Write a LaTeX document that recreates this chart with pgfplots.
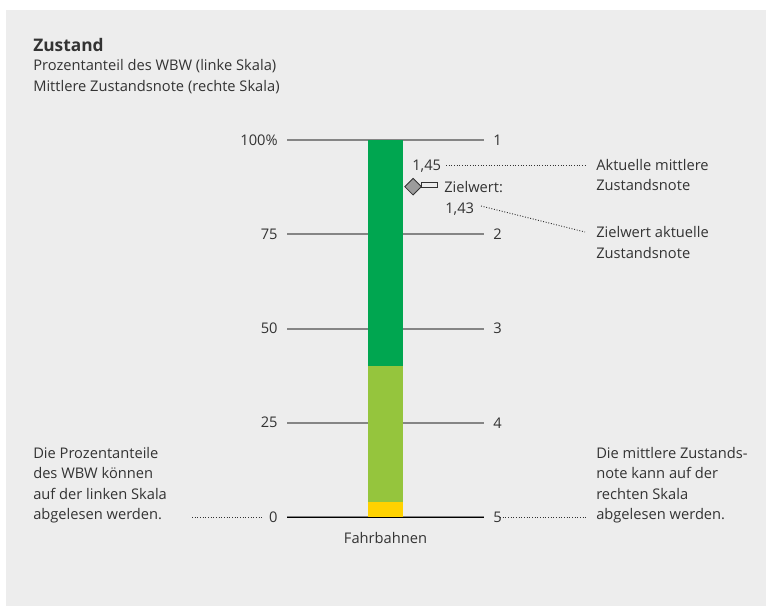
\documentclass[border=0pt]{standalone}
\usepackage{pgfplots}
\pgfplotsset{compat=1.18}
\usepackage{fontspec}
\setmainfont{Open Sans}
\definecolor{panel}{HTML}{EDEDED}
\definecolor{dkgreen}{HTML}{00A650}
\definecolor{ltgreen}{HTML}{95C53D}
\definecolor{yel}{HTML}{FFD200}
\definecolor{txt}{HTML}{333333}
\definecolor{gridc}{HTML}{858585}
\definecolor{diam}{HTML}{9C9C9C}
\newcommand{\fs}{\fontsize{11}{15}\selectfont}
\begin{document}
\begin{tikzpicture}[font=\fs]
\begin{scope}[x=0.75pt,y=-0.75pt]
\fill[white] (0,0) rectangle (766,606);
\fill[panel] (6,10) rectangle (766,606);
\node[anchor=base west, inner sep=0, text=txt, font=\fontsize{13}{15}\selectfont\bfseries] at (33,52) {Zustand};
\node[anchor=base west, inner sep=0, text=txt] at (33,71) {Prozentanteil des WBW (linke Skala)};
\node[anchor=base west, inner sep=0, text=txt] at (33,92) {Mittlere Zustandsnote (rechte Skala)};
% left block
\node[anchor=base west, inner sep=0, text=txt] at (33,458) {Die Prozentanteile};
\node[anchor=base west, inner sep=0, text=txt] at (33,478) {des WBW können};
\node[anchor=base west, inner sep=0, text=txt] at (33,499) {auf der linken Skala};
\node[anchor=base west, inner sep=0, text=txt] at (33,519) {abgelesen werden.};
% right block
\node[anchor=base west, inner sep=0, text=txt] at (596,458) {Die mittlere Zustands-};
\node[anchor=base west, inner sep=0, text=txt] at (596,478) {note kann auf der};
\node[anchor=base west, inner sep=0, text=txt] at (596,499) {rechten Skala};
\node[anchor=base west, inner sep=0, text=txt] at (596,519) {abgelesen werden.};
% annotations
\node[anchor=base west, inner sep=0, text=txt] at (412,170) {1,45};
\node[anchor=base west, inner sep=0, text=txt] at (596,170) {Aktuelle mittlere};
\node[anchor=base west, inner sep=0, text=txt] at (596,190) {Zustandsnote};
\node[anchor=base west, inner sep=0, text=txt] at (444,192) {Zielwert:};
\node[anchor=base west, inner sep=0, text=txt] at (445,213) {1,43};
\node[anchor=base west, inner sep=0, text=txt] at (596,237) {Zielwert aktuelle};
\node[anchor=base west, inner sep=0, text=txt] at (596,258) {Zustandsnote};
\begin{scope}[txt, line width=0.7pt, dash pattern=on 0.7pt off 1.3pt]
\draw (446,165) -- (585,165);
\draw (481,206) -- (585,232);
\draw (192,517) -- (262,517);
\draw (500,517) -- (587,517);
\end{scope}
\end{scope}

\begin{axis}[
  at={(215.25pt,-387.75pt)}, anchor=south west,
  scale only axis, width=147.75pt, height=282.75pt,
  xmin=-1, xmax=1, ymin=0, ymax=100,
  axis line style={draw=none},
  major tick length=0pt,
  ymajorgrids, grid style={gridc, line width=1.5pt},
  ytick={0,25,50,75,100}, yticklabels={0,25,50,75,100\%},
  xtick={0}, xticklabels={Fahrbahnen},
  tick label style={text=txt, font=\fs},
  yticklabel style={xshift=-3.5pt},
  xticklabel style={yshift=-8pt},
  ybar stacked, bar width=26.25pt,
  clip=false,
]
\addplot[fill=yel, draw=none] coordinates {(0,4)};
\addplot[fill=ltgreen, draw=none] coordinates {(0,36)};
\addplot[fill=dkgreen, draw=none] coordinates {(0,60)};
\draw[black, line width=0.9pt] ([yshift=-0.6pt]axis cs:-1,0) -- ([yshift=-0.6pt]axis cs:1,0);
\end{axis}

\begin{axis}[
  at={(215.25pt,-387.75pt)}, anchor=south west,
  scale only axis, width=147.75pt, height=282.75pt,
  xmin=-1, xmax=1, ymin=1, ymax=5, y dir=reverse,
  axis y line*=right, hide x axis,
  axis line style={draw=none},
  major tick length=0pt,
  ytick={1,2,3,4,5}, yticklabels={1,2,3,4,5},
  tick label style={text=txt, font=\fs},
  yticklabel style={xshift=3.5pt},
  clip=false,
]
\addplot[only marks, mark=square*, mark size=4.4pt,
  mark options={rotate=45, fill=diam, draw=txt, line width=0.6pt}]
  coordinates {(0.28,1.495)};
\end{axis}

\begin{scope}[x=0.75pt,y=-0.75pt]
\draw[txt, fill=white!85!gray, line width=0.7pt] (421,182.5) rectangle (437,187.5);
\end{scope}
\end{tikzpicture}
\end{document}
